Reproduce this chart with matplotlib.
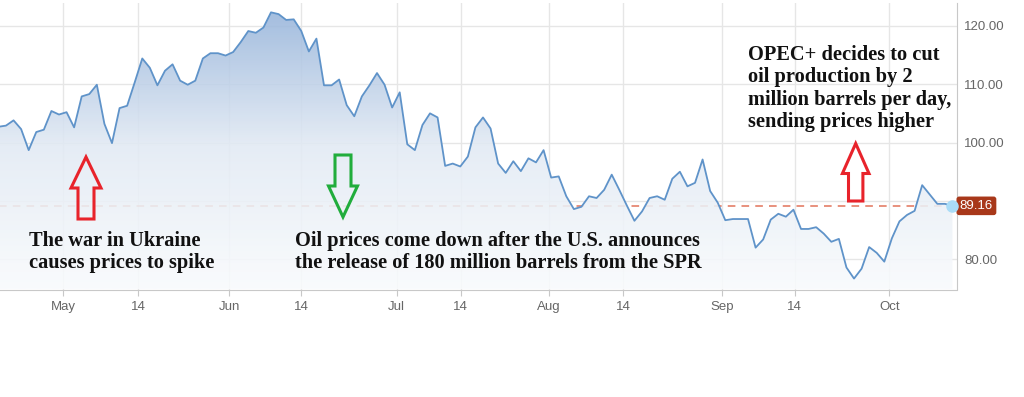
import numpy as np
import matplotlib.pyplot as plt
import matplotlib.transforms as mtransforms
from matplotlib.patches import Polygon
from matplotlib.colors import LinearSegmentedColormap

# daily oil price (USD), one value per trading session
prices = [102.7, 102.9, 103.8, 102.3, 98.7, 101.8, 102.2, 105.4, 104.8, 105.2,
          102.6, 107.9, 108.3, 109.9, 103.2, 99.9, 105.9, 106.3, 110.3, 114.4,
          112.8, 109.8, 112.3, 113.4, 110.6, 109.9, 110.6, 114.4, 115.3, 115.3,
          114.9, 115.5, 117.2, 119.1, 118.8, 119.7, 122.3, 122.0, 121.0, 121.1,
          119.1, 115.6, 117.8, 109.8, 109.8, 110.8, 106.4, 104.5, 107.9, 109.8,
          111.9, 109.9, 106.0, 108.6, 99.7, 98.7, 103.0, 105.0, 104.3, 96.0,
          96.4, 95.9, 97.6, 102.6, 104.3, 102.4, 96.4, 94.8, 96.8, 95.1,
          97.3, 96.6, 98.7, 94.0, 94.2, 90.8, 88.6, 89.0, 90.8, 90.5,
          91.9, 94.5, 91.9, 89.2, 86.6, 88.2, 90.5, 90.8, 90.2, 93.8,
          95.0, 92.5, 93.1, 97.1, 91.7, 89.7, 86.7, 86.9, 86.9, 86.9,
          82.0, 83.4, 86.8, 87.8, 87.3, 88.5, 85.2, 85.2, 85.5, 84.4,
          83.0, 83.5, 78.6, 76.7, 78.4, 82.1, 81.1, 79.6, 83.6, 86.5,
          87.6, 88.3, 92.7, 91.1, 89.5, 89.5, 89.16]
last_price = 89.16

tick_pos = [7.57, 17.48, 29.5, 38.97, 51.61, 60.07, 71.69, 81.55, 94.58, 104.14, 116.68]
tick_labels = ['May', '14', 'Jun', '14', 'Jul', '14', 'Aug', '14', 'Sep', '14', 'Oct']
ytick_vals = [80, 90, 100, 110, 120]
ytick_labels = ['80.00', '', '100.00', '110.00', '120.00']

note_war = 'The war in Ukraine\ncauses prices to spike'
note_spr = ('Oil prices come down after the U.S. announces\n'
            'the release of 180 million barrels from the SPR')
note_opec = ('OPEC+ decides to cut\noil production by 2\n'
             'million barrels per day,\nsending prices higher')

W, H = 1024, 397
plt.rcParams['font.family'] = 'Liberation Sans'
fig = plt.figure(figsize=(W / 100, H / 100), dpi=100)
ax = fig.add_axes([0, 1 - 289.5 / H, 957 / W, (289.5 - 3) / H])

x = np.arange(len(prices)) - 1
x0, x1 = -0.79, 125.6
y0, y1 = 74.83, 123.9

# gradient area under the line
fill = ax.fill_between(x, prices, y0 - 5, color='none', lw=0)
cmap = LinearSegmentedColormap.from_list('area', ['#f9fbfd', '#e2eaf4', '#92b1d9'])
grad = np.linspace(0, 1, 256).reshape(-1, 1)
im = ax.imshow(grad, cmap=cmap, aspect='auto', origin='lower',
               extent=[x0, x1, y0, y1], alpha=0.88, zorder=2)
im.set_clip_path(fill.get_paths()[0], transform=ax.transData)

ax.hlines(last_price, x[0], x[-1], colors='#e2735a', linestyles=(0, (5, 4)),
          lw=1.1, zorder=1)
ax.plot(x, prices, color='#5f93c9', lw=1.3, zorder=4)

ax.set_xlim(x0, x1)
ax.set_ylim(y0, y1)
ax.set_xticks(tick_pos)
ax.set_xticklabels(tick_labels)
ax.set_yticks(ytick_vals)
ax.set_yticklabels(ytick_labels)
ax.yaxis.tick_right()
ax.tick_params(axis='x', length=4, color='#c8c8c8', labelcolor='#666666',
               labelsize=9.5, pad=4)
ax.tick_params(axis='y', length=0, labelcolor='#666666', labelsize=9.5, pad=5)
ax.grid(color='#e6e6e6', lw=1)
ax.set_axisbelow(True)
for s in ['top', 'left']:
    ax.spines[s].set_visible(False)
for s in ['bottom', 'right']:
    ax.spines[s].set_color('#c8c8c8')

trans = mtransforms.blended_transform_factory(ax.transAxes, ax.transData)
ax.annotate('%.2f' % last_price, xy=(1.0, last_price), xycoords=trans,
            xytext=(2, 0), textcoords='offset points', ha='left', va='center',
            color='white', fontsize=9.5, zorder=7, annotation_clip=False,
            bbox=dict(boxstyle='round,pad=0.25,rounding_size=0.2', fc='#a8381a', ec='none'))
ax.plot(x[-1], prices[-1], 'o', ms=8, color='#aadcf7', mec='#aadcf7',
        clip_on=False, zorder=8)


def block_arrow(cx, tip, head_base, end, head_hw, shaft_hw, color):
    pts = [(cx, tip), (cx + head_hw, head_base), (cx + shaft_hw, head_base),
           (cx + shaft_hw, end), (cx - shaft_hw, end), (cx - shaft_hw, head_base),
           (cx - head_hw, head_base)]
    pts = [(px / W, 1 - py / H) for px, py in pts]
    fig.patches.append(Polygon(pts, closed=True, fill=False, edgecolor=color,
                               lw=2.2, joinstyle='miter', transform=fig.transFigure))


block_arrow(86, 157, 188, 219, 15, 8, '#e8232b')
block_arrow(343, 217, 186, 155, 14.5, 8, '#21ad3c')
block_arrow(855.7, 143.5, 173.5, 201, 13.3, 7.2, '#e8232b')

txt = dict(family='Liberation Serif', fontweight='bold', fontsize=14.7,
           color='#111111', va='baseline', ha='left')
# anchor on the baseline of the last line
fig.text(29 / W, 1 - 268 / H, note_war, linespacing=1.12, **txt)
fig.text(295 / W, 1 - 268 / H, note_spr, linespacing=1.12, **txt)
fig.text(748 / W, 1 - 127.5 / H, note_opec, linespacing=1.17, **txt)

plt.savefig('out.png', dpi=100)
